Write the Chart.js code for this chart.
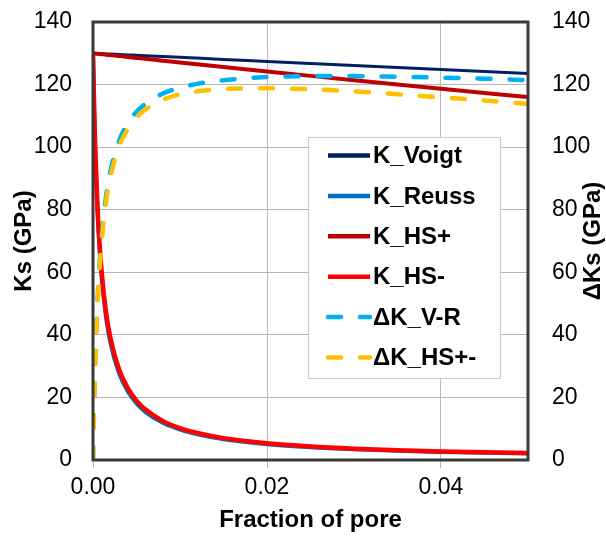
<!DOCTYPE html>
<html>
<head>
<meta charset="utf-8">
<script src="https://cdn.jsdelivr.net/npm/chart.js@4.4.0/dist/chart.umd.min.js"></script>
<style>
  body { margin: 0; background: #fff; }
  #myChart { display: block; }
</style>
</head>
<body>
<canvas id="myChart" width="606" height="539"></canvas>
<script>
// Datos
const fraccion = [0, 0.0001, 0.0002, 0.0003, 0.0005, 0.0007, 0.001, 0.0015, 0.002, 0.003, 0.004, 0.005,
  0.006, 0.008, 0.01, 0.0125, 0.015, 0.02, 0.025, 0.03, 0.035, 0.04, 0.045, 0.05];

const kVoigt = [130, 129.99, 129.97, 129.96, 129.94, 129.91, 129.87, 129.81, 129.74, 129.61, 129.48, 129.35,
  129.22, 128.96, 128.70, 128.38, 128.05, 127.40, 126.75, 126.10, 125.45, 124.80, 124.15, 123.50];
const kReuss = [130, 115.7, 104.2, 94.8, 80.3, 69.7, 58.1, 45.5, 37.4, 27.6, 21.9, 18.1,
  15.4, 11.9, 9.72, 7.90, 6.65, 5.05, 4.07, 3.41, 2.93, 2.58, 2.29, 2.07];
const kHSmas = [130, 129.97, 129.94, 129.91, 129.85, 129.79, 129.70, 129.55, 129.41, 129.11, 128.81, 128.52,
  128.22, 127.64, 127.06, 126.33, 125.61, 124.19, 122.78, 121.39, 120.02, 118.66, 117.32, 116.00];
const kHSmenos = [130, 117, 105.5, 96.5, 82, 71.5, 60, 47.2, 39, 28.9, 23.0, 19.0,
  16.2, 12.5, 10.2, 8.3, 7.0, 5.35, 4.32, 3.62, 3.12, 2.75, 2.45, 2.22];
const dKVR = [0, 14.3, 25.8, 35.2, 49.6, 60.2, 71.8, 84.3, 92.3, 102.0, 107.6, 111.3,
  113.8, 117.1, 119.0, 120.5, 121.4, 122.4, 122.7, 122.7, 122.5, 122.2, 121.9, 121.4];
const dKHS = [0, 13.0, 24.4, 33.4, 47.9, 58.3, 69.7, 82.4, 90.4, 100.2, 105.8, 109.5,
  112.0, 115.1, 116.9, 118.0, 118.6, 118.8, 118.5, 117.8, 116.9, 115.9, 114.9, 113.8];

const etiquetas = ['K_Voigt', 'K_Reuss', 'K_HS+', 'K_HS-', '\u0394K_V-R', '\u0394K_HS+-'];
const xTicks = [0, 0.02, 0.04];
const yTicks = [0, 20, 40, 60, 80, 100, 120, 140];

const fuente = '"Liberation Sans", Arial, sans-serif';
Chart.defaults.font.family = fuente;
Chart.defaults.color = '#000';

const estilos = [
  { color: '#002060', ancho: 3, eje: 'y' },
  { color: '#0070c0', ancho: 4, eje: 'y' },
  { color: '#c00000', ancho: 4, eje: 'y' },
  { color: '#ff0000', ancho: 4.5, eje: 'y' },
  { color: '#00b0f0', ancho: 4.5, eje: 'y2', dash: [13, 19] },
  { color: '#ffc000', ancho: 4.5, eje: 'y2', dash: [13, 19] }
];

function crearDatos() {
  const series = [kVoigt, kReuss, kHSmas, kHSmenos, dKVR, dKHS];
  const datasets = series.map((serie, i) => ({
    label: etiquetas[i],
    data: fraccion.map((x, j) => ({ x, y: serie[j] })),
    borderColor: estilos[i].color,
    borderWidth: estilos[i].ancho,
    borderDash: estilos[i].dash || [],
    borderCapStyle: estilos[i].dash ? 'round' : 'butt',
    yAxisID: estilos[i].eje,
    pointRadius: 0,
    cubicInterpolationMode: 'monotone',
    fill: false,
    order: series.length - i
  }));
  return { datasets };
}

// tamaño fijo de cada eje
function fijarEje(s, ancho, alto) {
  if (ancho) s.width = ancho;
  if (alto) s.height = alto;
  s.paddingTop = 0;
  s.paddingBottom = 0;
  s.paddingLeft = 0;
  s.paddingRight = 0;
}

// marco del area de trazado
const marcoPlugin = {
  id: 'marco',
  afterDatasetsDraw(chart) {
    const { ctx, chartArea: a } = chart;
    ctx.save();
    ctx.strokeStyle = '#3a3a3a';
    ctx.lineWidth = 3;
    ctx.strokeRect(a.left, a.top, a.right - a.left, a.bottom - a.top);
    ctx.restore();
  }
};

// leyenda dentro del grafico y titulo del eje derecho
const leyendaPlugin = {
  id: 'leyenda',
  afterDraw(chart) {
    const { ctx, chartArea: a } = chart;
    ctx.save();
    const bx = a.left + 215, by = a.top + 115, bw = 192, bh = 241;
    ctx.fillStyle = '#fff';
    ctx.fillRect(bx, by, bw, bh);
    ctx.strokeStyle = '#c8c8c8';
    ctx.lineWidth = 1;
    ctx.strokeRect(bx + 0.5, by + 0.5, bw, bh);
    ctx.font = 'bold 24px ' + fuente;
    ctx.textBaseline = 'middle';
    ctx.textAlign = 'left';
    etiquetas.forEach((txt, i) => {
      const yy = by + 18.5 + i * 40.4;
      ctx.beginPath();
      ctx.strokeStyle = estilos[i].color;
      ctx.lineWidth = 4.5;
      ctx.lineCap = estilos[i].dash ? 'round' : 'butt';
      ctx.setLineDash(estilos[i].dash || []);
      ctx.moveTo(bx + 20, yy);
      ctx.lineTo(bx + 62, yy);
      ctx.stroke();
      ctx.setLineDash([]);
      ctx.fillStyle = '#000';
      ctx.fillText(txt, bx + 65, yy + 1);
    });
    ctx.translate(593, (a.top + a.bottom) / 2);
    ctx.rotate(-Math.PI / 2);
    ctx.textAlign = 'center';
    ctx.fillText('\u0394Ks (GPa)', 0, 0);
    ctx.restore();
  }
};

const canvas = document.querySelector('#myChart');
const myChart = new Chart(canvas, {
  type: 'line',
  data: crearDatos(),
  options: {
    responsive: false,
    animation: false,
    layout: { padding: { top: 22, left: 0, right: 0, bottom: 0 } },
    plugins: { legend: { display: false }, tooltip: { enabled: false } },
    scales: {
      x: {
        type: 'linear',
        min: 0,
        max: 0.05,
        afterBuildTicks: s => { s.ticks = xTicks.map(v => ({ value: v })); },
        afterFit: s => fijarEje(s, 0, 79),
        ticks: { font: { size: 23 }, padding: 6, callback: v => v.toFixed(2) },
        grid: { color: '#b8b8b8', lineWidth: 1, drawTicks: true, tickLength: 8 },
        border: { display: false },
        title: { display: true, text: 'Fraction of pore', font: { size: 24, weight: 'bold' }, padding: { top: 0, bottom: 4 } }
      },
      y: {
        position: 'left',
        min: 0,
        max: 140,
        afterBuildTicks: s => { s.ticks = yTicks.map(v => ({ value: v })); },
        afterFit: s => fijarEje(s, 93, 0),
        ticks: { font: { size: 23 }, padding: 21 },
        grid: { color: '#b8b8b8', lineWidth: 1, drawTicks: false },
        border: { display: false },
        title: { display: true, text: 'Ks (GPa)', font: { size: 24, weight: 'bold' }, padding: { top: 10, bottom: 0 } }
      },
      y2: {
        position: 'right',
        min: 0,
        max: 140,
        afterBuildTicks: s => { s.ticks = yTicks.map(v => ({ value: v })); },
        afterFit: s => fijarEje(s, 78, 0),
        ticks: { font: { size: 23 }, padding: 24 },
        grid: { display: false, drawTicks: false },
        border: { display: false }
      }
    }
  },
  plugins: [marcoPlugin, leyendaPlugin]
});
</script>
</body>
</html>
